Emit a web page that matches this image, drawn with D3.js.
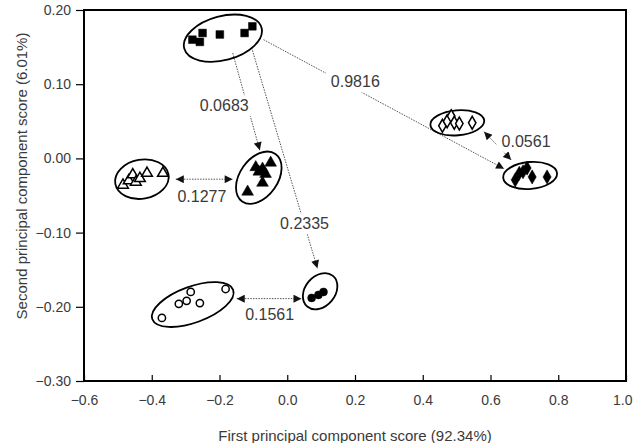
<!DOCTYPE html>
<html>
<head>
<meta charset="utf-8">
<script src="https://cdn.jsdelivr.net/npm/d3@7"></script>
<style>
  body { margin: 0; background: #fff; }
  text { font-family: "Liberation Sans", Arial, sans-serif; fill: #3a3a3a; }
</style>
</head>
<body>
<svg id="chart" width="633" height="443"></svg>
<script>
// ---- data ----
var xTicks = [-0.6, -0.4, -0.2, 0.0, 0.2, 0.4, 0.6, 0.8, 1.0];
var yTicks = [0.20, 0.10, 0.00, -0.10, -0.20, -0.30];

var squaresX = [-0.280, -0.258, -0.250, -0.199, -0.126, -0.103];
var squaresY = [0.160, 0.157, 0.169, 0.167, 0.169, 0.178];

var openTriX = [-0.485, -0.468, -0.456, -0.447, -0.435, -0.414, -0.367];
var openTriY = [-0.036, -0.030, -0.022, -0.032, -0.027, -0.020, -0.020];

var fillTriX = [-0.117, -0.093, -0.084, -0.073, -0.064, -0.049, -0.073];
var fillTriY = [-0.045, -0.012, -0.018, -0.014, -0.021, -0.006, -0.033];

var openCircX = [-0.370, -0.320, -0.297, -0.285, -0.258, -0.182];
var openCircY = [-0.215, -0.196, -0.192, -0.180, -0.195, -0.176];

var fillCircX = [0.072, 0.092, 0.107];
var fillCircY = [-0.188, -0.184, -0.180];

var openDiaX = [0.458, 0.472, 0.484, 0.493, 0.508, 0.546];
var openDiaY = [0.044, 0.050, 0.057, 0.048, 0.047, 0.048];

var fillDiaX = [0.673, 0.685, 0.696, 0.708, 0.723, 0.767];
var fillDiaY = [-0.029, -0.020, -0.018, -0.013, -0.025, -0.025];

// group ellipses: centre in data units
var ellipseCx = [-0.190, -0.429, -0.084, -0.279, 0.097, 0.502, 0.717];
var ellipseCy = [0.162, -0.028, -0.026, -0.197, -0.179, 0.048, -0.023];

// distance arrows: start / end in data units
var arrowLabels = ["0.0683", "0.2335", "0.9816", "0.0561", "0.1277", "0.1561"];
var arrowX1 = [-0.161, -0.105, -0.070, 0.581, -0.329, -0.149];
var arrowY1 = [0.142, 0.149, 0.160, 0.036, -0.028, -0.189];
var arrowX2 = [-0.081, 0.089, 0.640, 0.661, -0.161, 0.042];
var arrowY2 = [0.011, -0.148, -0.014, -0.002, -0.028, -0.189];
var arrowBoth = [false, false, false, true, true, true];
var labelX = [-0.186, 0.051, 0.201, 0.705, -0.252, -0.052];
var labelY = [0.071, -0.088, 0.103, 0.023, -0.051, -0.210];

// ---- layout ----
var svg = d3.select("#chart");
var x = d3.scaleLinear().domain([-0.6, 1.0]).range([84, 626]);
var y = d3.scaleLinear().domain([-0.3, 0.2]).range([381, 10]);

// ellipse shapes (pixels / degrees)
var ellipseRx = [40, 27, 29, 43, 20, 27, 27];
var ellipseRy = [22, 19.5, 19, 18, 15, 12.5, 13.5];
var ellipseRot = [-15, -10, -55, -20, -50, -5, -5];

var defs = svg.append("defs");
defs.append("marker")
    .attr("id", "head")
    .attr("viewBox", "0 0 10 10")
    .attr("refX", 10).attr("refY", 5)
    .attr("markerUnits", "userSpaceOnUse")
    .attr("markerWidth", 10).attr("markerHeight", 8)
    .attr("orient", "auto-start-reverse")
  .append("path")
    .attr("d", "M0,0 L10,5 L0,10 Z")
    .attr("fill", "#111");

// arrows
arrowLabels.forEach(function (lab, i) {
    svg.append("line")
        .attr("x1", x(arrowX1[i])).attr("y1", y(arrowY1[i]))
        .attr("x2", x(arrowX2[i])).attr("y2", y(arrowY2[i]))
        .attr("stroke", "#555")
        .attr("stroke-width", 1)
        .attr("stroke-dasharray", "1.5,1.2")
        .attr("marker-end", "url(#head)")
        .attr("marker-start", arrowBoth[i] ? "url(#head)" : null);
});

// labels with white box so the lines break around them
arrowLabels.forEach(function (lab, i) {
    var t = svg.append("text")
        .attr("x", x(labelX[i]))
        .attr("y", y(labelY[i]))
        .attr("text-anchor", "middle")
        .attr("dominant-baseline", "central")
        .attr("font-size", 16)
        .text(lab);
    var b = t.node().getBBox();
    svg.insert("rect", "text")
        .attr("x", b.x - 5).attr("y", b.y - 2)
        .attr("width", b.width + 10).attr("height", b.height + 4)
        .attr("fill", "#fff");
});

// ellipses
ellipseCx.forEach(function (cx, i) {
    svg.append("ellipse")
        .attr("transform", "translate(" + x(cx) + "," + y(ellipseCy[i]) + ") rotate(" + ellipseRot[i] + ")")
        .attr("rx", ellipseRx[i]).attr("ry", ellipseRy[i])
        .attr("fill", "none")
        .attr("stroke", "#000")
        .attr("stroke-width", 1.8);
});

// points
function drawGroup(xs, ys, type, size, filled) {
    var sym = d3.symbol().type(type).size(size);
    svg.append("g").selectAll("path")
        .data(xs.map(function (d, i) { return [d, ys[i]]; }))
        .enter().append("path")
        .attr("transform", function (d) { return "translate(" + x(d[0]) + "," + y(d[1]) + ")"; })
        .attr("d", sym)
        .attr("fill", filled ? "#000" : "#fff")
        .attr("stroke", "#000")
        .attr("stroke-width", filled ? 0.5 : 1.5);
}
drawGroup(squaresX, squaresY, d3.symbolSquare, 60, true);
drawGroup(openTriX, openTriY, d3.symbolTriangle, 50, false);
drawGroup(fillTriX, fillTriY, d3.symbolTriangle, 60, true);
drawGroup(openCircX, openCircY, d3.symbolCircle, 42, false);
drawGroup(fillCircX, fillCircY, d3.symbolCircle, 50, true);
drawGroup(openDiaX, openDiaY, d3.symbolDiamond, 48, false);
drawGroup(fillDiaX, fillDiaY, d3.symbolDiamond, 58, true);

// frame
svg.append("rect")
    .attr("x", 84).attr("y", 10)
    .attr("width", 626 - 84).attr("height", 381 - 10)
    .attr("fill", "none")
    .attr("stroke", "#000")
    .attr("stroke-width", 2);

// axes
var xAxis = svg.append("g")
    .attr("transform", "translate(0,381)")
    .call(d3.axisBottom(x).tickValues(xTicks).tickFormat(d3.format(".1f"))
        .tickSizeInner(-6).tickSizeOuter(0).tickPadding(14));
xAxis.select(".domain").remove();
xAxis.selectAll("line").attr("stroke", "#000").attr("stroke-width", 1.2);
xAxis.selectAll("text").attr("font-size", 14).attr("fill", "#3a3a3a")
    .style("font-family", "'Liberation Sans', Arial, sans-serif");
// keep the last label inside the picture
xAxis.selectAll(".tick").filter(function (d) { return d === 1.0; })
    .select("text").attr("text-anchor", "end").attr("dx", 6);

var yAxis = svg.append("g")
    .attr("transform", "translate(84,0)")
    .call(d3.axisLeft(y).tickValues(yTicks).tickFormat(d3.format(".2f"))
        .tickSizeInner(8).tickSizeOuter(0).tickPadding(5));
yAxis.select(".domain").remove();
yAxis.selectAll("line").attr("stroke", "#000").attr("stroke-width", 1.2);
yAxis.selectAll("text").attr("font-size", 14).attr("fill", "#3a3a3a")
    .style("font-family", "'Liberation Sans', Arial, sans-serif");

// axis titles
svg.append("text")
    .attr("x", 355).attr("y", 435)
    .attr("text-anchor", "middle")
    .attr("dominant-baseline", "central")
    .attr("font-size", 15)
    .text("First principal component score (92.34%)");

svg.append("text")
    .attr("transform", "translate(21,176) rotate(-90)")
    .attr("text-anchor", "middle")
    .attr("dominant-baseline", "central")
    .attr("font-size", 15)
    .text("Second principal component score (6.01%)");
</script>
</body>
</html>
